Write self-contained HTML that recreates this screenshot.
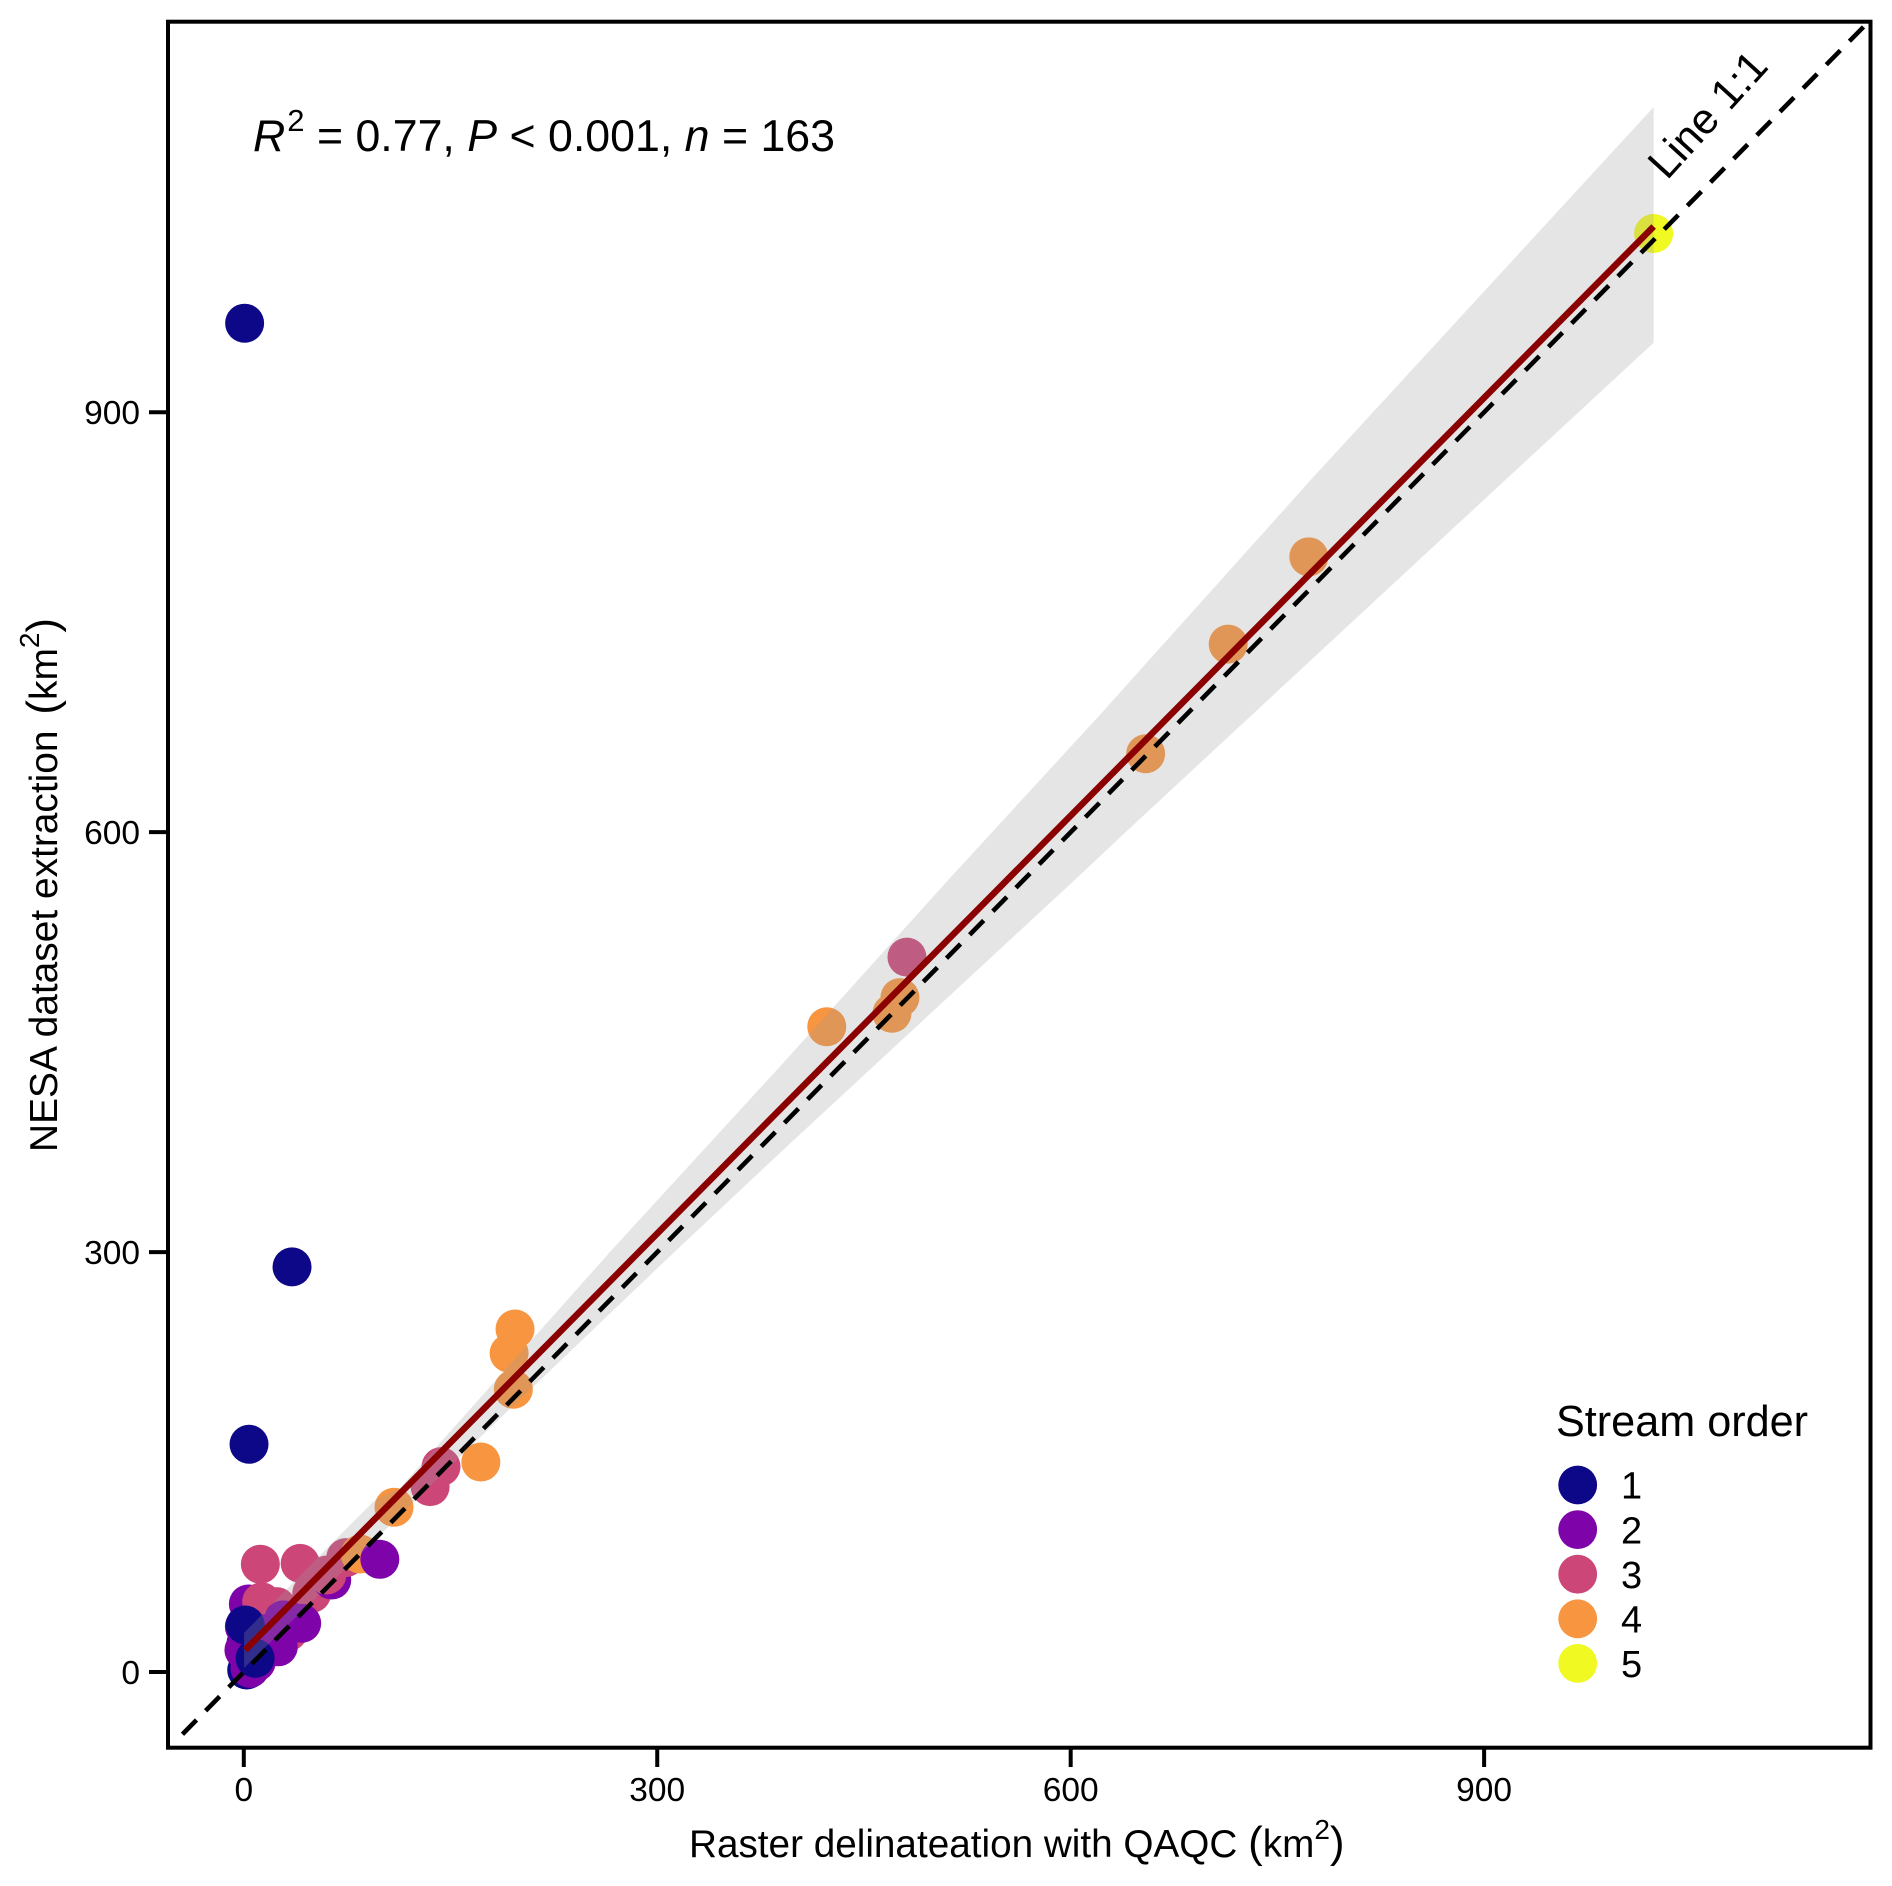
<!DOCTYPE html>
<html lang="en">
<head>
<meta charset="utf-8">
<title>Raster delineation vs NESA dataset extraction</title>
<style>
html,body{margin:0;padding:0;background:#fff;}
svg{display:block;}
text{font-family:"Liberation Sans",sans-serif;fill:#000;}
</style>
</head>
<body>
<svg id="chart" xmlns="http://www.w3.org/2000/svg" width="1892" height="1886" viewBox="0 0 1892 1886">
  <rect x="0" y="0" width="1892" height="1886" fill="#fff"/>
  <g id="points"></g>
  <path id="ribbon" fill="#999" fill-opacity="0.26" stroke="none"/>
  <path id="identity" fill="none" stroke="#000" stroke-width="4.6" stroke-dasharray="20 13"/>
  <path id="fit" fill="none" stroke="#8b0000" stroke-width="6.5"/>
  <rect x="168" y="21.7" width="1702.5" height="1726" fill="none" stroke="#000" stroke-width="4"/>
  <g id="ticks"></g>

  <text x="253" y="151" font-size="44.7"><tspan font-style="italic">R</tspan><tspan font-size="31" dy="-20" dx="2">2</tspan><tspan dy="20"> = 0.77, </tspan><tspan font-style="italic">P</tspan> &lt; 0.001, <tspan font-style="italic">n</tspan> = 163</text>
  <text transform="translate(1667,181) rotate(-47.8)" font-size="43">Line 1:1</text>

  <text x="689" y="1857" font-size="38.7">Raster delinateation with QAQC <tspan font-size="44">(</tspan>km<tspan font-size="28" dy="-18">2</tspan><tspan font-size="44" dy="18">)</tspan></text>
  <text transform="translate(57,1152) rotate(-90)" font-size="38.9">NESA dataset extraction <tspan font-size="44" dx="5">(</tspan>km<tspan font-size="28" dy="-18">2</tspan><tspan font-size="44" dy="18">)</tspan></text>

  <g id="legend">
    <text x="1556" y="1436" font-size="43.2">Stream order</text>
  </g>
</svg>
<script>
var streamOrder = [
  1,1,2,2,2,2,2,3,3,3,3,3,3,
  2,3,3,4,2,
  2,2,2,2,2,2,
  1,1,
  1,1,1,
  3,3,4,3,4,4,4,4,4,4,4,4,4,4,5
];
var rasterArea = [
  1.6,2.1,0.1,3.3,0.4,4.5,9,13,23.9,32.3,12,40.9,49.3,
  63.8,60.2,74,84.4,98.7,
  25,16.6,28.7,42,20,34.8,
  8.2,1,
  0.6,35,3.8,
  135.2,143.1,109,481.2,172,192.5,196.8,195.6,423,470.3,476.1,654.4,714.3,772.8,1023
];
var nesaArea = [
  20.5,1.4,15.7,48.6,32.4,2.6,7,50.2,46.7,28.8,77,77.6,56.2,
  65.7,69.3,81.7,84.3,80.5,
  18,27.6,37.2,34.8,24,35.9,
  9.8,33.6,
  963.6,289.4,162.7,
  132.4,146.7,117.7,510.7,150,227.7,245,202,461,470.6,481.8,656,734.3,796.7,1027.7
];

var orderLabels = [1,2,3,4,5];
var orderColors = ["#0d0887","#7e03a8","#cc4778","#f89540","#f0f921"];
var xTickValues = [0,300,600,900];
var yTickValues = [0,300,600,900];
var fitX = [1,1023];
var fitY = [15.7,1032.7];
var identityEnds = [-44.5,1180];
var upperX = [0.2,55.4,95.3,113.4,267,389,511.2,621.2,776,1023];
var upperY = [27.9,83.6,122.9,131.5,301.5,432.5,565.9,683.8,853.6,1118];
var lowerX = [0.2,164.2,314,389,603,641.6,875,1023];
var lowerY = [2.9,160.8,301.5,370.8,565.9,601.6,814.8,949.6];
var xDomain = [-55,1180];
var yDomain = [-54.3,1179];

var NS = "http://www.w3.org/2000/svg";
function xPos(v){ return 168 + (v - xDomain[0]) * (1870 - 168) / (xDomain[1] - xDomain[0]); }
function yPos(v){ return 1748 - (v - yDomain[0]) * (1748 - 21.7) / (yDomain[1] - yDomain[0]); }
function make(tag, parent){ var e = document.createElementNS(NS, tag); parent.appendChild(e); return e; }
function colorFor(o){ return orderColors[orderLabels.indexOf(o)]; }

var pointsLayer = document.getElementById("points");
streamOrder.forEach(function(o, i){
  var c = make("circle", pointsLayer);
  
  
  c.setAttribute("cx", xPos(rasterArea[i]).toFixed(2));
  c.setAttribute("cy", yPos(nesaArea[i]).toFixed(2));
  c.setAttribute("r", 19.5);
  c.setAttribute("fill", colorFor(o));
});

var d = "";
upperX.forEach(function(v, i){ d += (i ? "L" : "M") + xPos(v).toFixed(2) + " " + yPos(upperY[i]).toFixed(2); });
for (var j = lowerX.length - 1; j >= 0; j--) { d += "L" + xPos(lowerX[j]).toFixed(2) + " " + yPos(lowerY[j]).toFixed(2); }
document.getElementById("ribbon").setAttribute("d", d + "Z");

document.getElementById("identity").setAttribute("d",
  "M" + xPos(identityEnds[0]) + " " + yPos(identityEnds[0]) + "L" + xPos(identityEnds[1]) + " " + yPos(identityEnds[1]));
document.getElementById("fit").setAttribute("d",
  "M" + xPos(fitX[0]) + " " + yPos(fitY[0]) + "L" + xPos(fitX[1]) + " " + yPos(fitY[1]));

var tickLayer = document.getElementById("ticks");
xTickValues.forEach(function(v){
  var l = make("line", tickLayer);
  
  
  l.setAttribute("x1", xPos(v)); l.setAttribute("x2", xPos(v));
  l.setAttribute("y1", 1748); l.setAttribute("y2", 1767);
  l.setAttribute("stroke", "#000"); l.setAttribute("stroke-width", 4);
  var t = make("text", tickLayer);
  
  
  t.setAttribute("x", xPos(v)); t.setAttribute("y", 1801);
  t.setAttribute("font-size", 33.5); t.setAttribute("text-anchor", "middle");
  t.textContent = v;
});
yTickValues.forEach(function(v){
  var l = make("line", tickLayer);
  
  
  l.setAttribute("y1", yPos(v)); l.setAttribute("y2", yPos(v));
  l.setAttribute("x1", 149); l.setAttribute("x2", 168);
  l.setAttribute("stroke", "#000"); l.setAttribute("stroke-width", 4);
  var t = make("text", tickLayer);
  
  
  t.setAttribute("x", 140); t.setAttribute("y", yPos(v) + 12);
  t.setAttribute("font-size", 33.5); t.setAttribute("text-anchor", "end");
  t.textContent = v;
});

var legendLayer = document.getElementById("legend");
orderLabels.forEach(function(o, i){
  var c = make("circle", legendLayer);
  
  
  c.setAttribute("cx", 1577.7); c.setAttribute("cy", 1485 + i * 44.6);
  c.setAttribute("r", 19.4); c.setAttribute("fill", orderColors[i]);
  var t = make("text", legendLayer);
  
  
  t.setAttribute("x", 1621); t.setAttribute("y", 1498.7 + i * 44.6);
  t.setAttribute("font-size", 38);
  t.textContent = o;
});
</script>
</body>
</html>
